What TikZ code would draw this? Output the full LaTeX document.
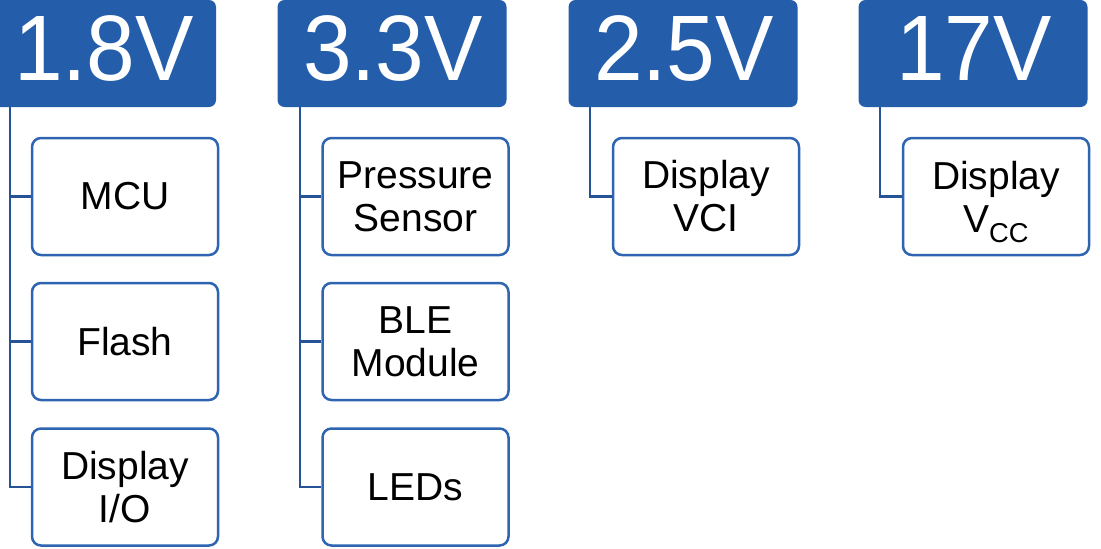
\documentclass[tikz,border=0pt]{standalone}
\usepackage{fontspec}
\setmainfont{Liberation Sans}
\definecolor{hdrblue}{RGB}{36,94,170}
\definecolor{boxblue}{RGB}{46,100,176}
\definecolor{lineblue}{RGB}{38,82,150}
\newcommand{\hdr}[1]{\scalebox{0.94}[1]{#1}}
\begin{document}
\begin{tikzpicture}[x=1pt,y=-1pt,
  header/.style={fill=hdrblue, draw=none, rounded corners=7pt, minimum width=229pt, minimum height=107pt, inner sep=0pt},
  hdrtext/.style={text=white, font=\fontsize{93}{100}\selectfont, inner sep=0pt, anchor=base},
  child/.style={draw=boxblue, line width=2.5pt, fill=white, rounded corners=9pt, minimum width=186pt, minimum height=117pt, inner sep=0pt, align=center, font=\fontsize{39}{43}\selectfont},
  conn/.style={draw=lineblue, line width=2.5pt}]
\useasboundingbox (0,0) rectangle (1101,549);
% headers
\node[header] (h1) at (101.5,53.5) {};
\node[header] (h2) at (392,53.5) {};
\node[header] (h3) at (683,53.5) {};
\node[header] (h4) at (973,53.5) {};
\node[hdrtext] (t1) at (104,80) {\hdr{1.8V}};
\node[hdrtext] (t2) at (393,80) {\hdr{3.3V}};
\node[hdrtext] (t3) at (684,80) {\hdr{2.5V}};
\node[hdrtext] (t4) at (974,80) {\hdr{17V}};
% children
\node[child] (c11) at (125,196.5) {MCU};
\node[child] (c12) at (125,341.5) {Flash};
\node[child] (c13) at (125,487) {Display\\I/O};
\node[child] (c21) at (415.5,196.5) {Pressure\\Sensor};
\node[child] (c22) at (415.5,341.5) {BLE\\Module};
\node[child] (c23) at (415.5,487) {LEDs};
\node[child] (c31) at (706,196.5) {Display\\VCI};
\node[child] (c41) at (996,196.5) {Display\\V\smash{\textsubscript{CC}}};
% connectors
\coordinate (s1) at (10,107);
\coordinate (s2) at (300,107);
\coordinate (s3) at (590,107);
\coordinate (s4) at (880,107);
\draw[conn] (s1) |- (c11.west);
\draw[conn] (s1) |- (c12.west);
\draw[conn] (s1) |- (c13.west);
\draw[conn] (s2) |- (c21.west);
\draw[conn] (s2) |- (c22.west);
\draw[conn] (s2) |- (c23.west);
\draw[conn] (s3) |- (c31.west);
\draw[conn] (s4) |- (c41.west);
\end{tikzpicture}
\end{document}
